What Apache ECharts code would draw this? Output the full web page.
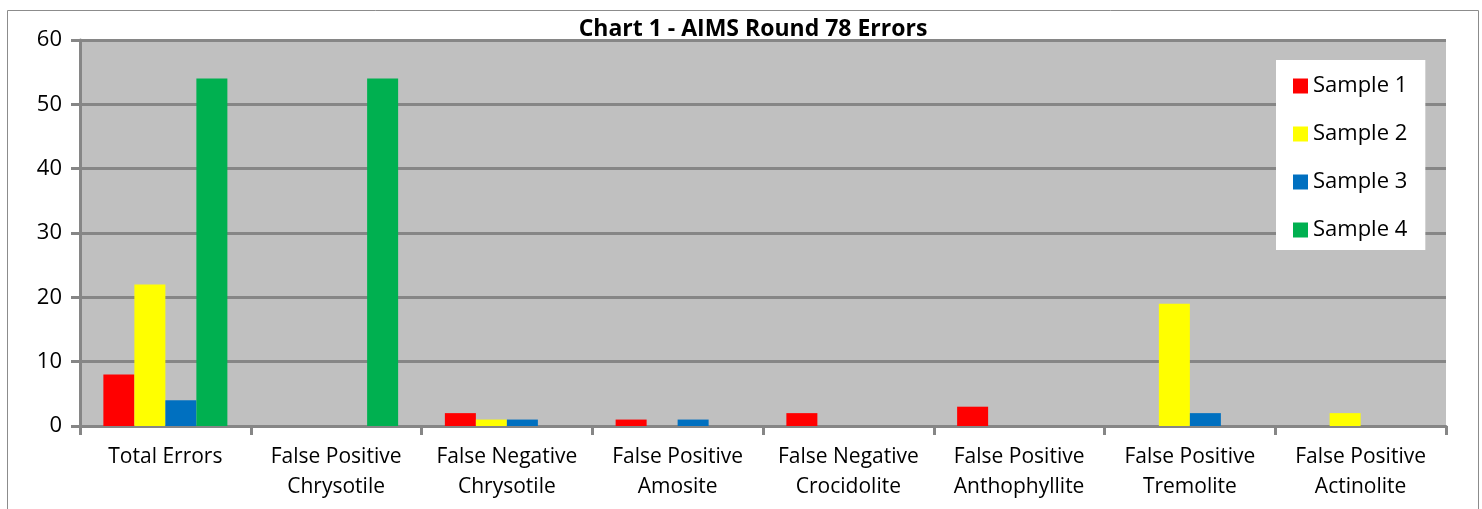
<!DOCTYPE html>
<html><head><meta charset="utf-8">
<script src="https://cdn.jsdelivr.net/npm/echarts@6/dist/echarts.min.js"></script>
<style>html,body{margin:0;padding:0;background:#fff}#c{width:1482px;height:509px}</style>
</head><body><div id="c"></div>
<script>
const categories = ['Total Errors','False Positive\nChrysotile','False Negative\nChrysotile','False Positive\nAmosite','False Negative\nCrocidolite','False Positive\nAnthophyllite','False Positive\nTremolite','False Positive\nActinolite'];
const sample1 = [8, 0, 2, 1, 2, 3, 0, 0];
const sample2 = [22, 0, 1, 0, 0, 0, 19, 2];
const sample3 = [4, 0, 1, 1, 0, 0, 2, 0];
const sample4 = [54, 54, 0, 0, 0, 0, 0, 0];
const seriesNames = ['Sample 1','Sample 2','Sample 3','Sample 4'];
const colors = ['#FF0000','#FFFF00','#0070C0','#00B050'];
const yTicks = [0,10,20,30,40,50,60];

const font = '"Open Sans", sans-serif';
const chart = echarts.init(document.getElementById('c'));
const data = [sample1, sample2, sample3, sample4];
chart.setOption({
  animation: false,
  title: {text: 'Chart 1 - AIMS Round 78 Errors', left: 748, textAlign: 'center', top: 13,
    textStyle: {fontFamily: font, fontWeight: 'bold', fontSize: 23, color: '#000'}},
  graphic: [{type: 'polyline', shape: {points: [[7.5,509],[7.5,10.5],[1478.5,10.5],[1478.5,509]]},
    style: {stroke: '#8c8c8c', lineWidth: 1, fill: null}}],
  legend: {orient: 'vertical', left: 1276, top: 60, width: 149, itemWidth: 15, itemHeight: 15,
    itemGap: 26, padding: [15, 18, 9, 17], backgroundColor: '#fff', icon: 'rect',
    textStyle: {fontFamily: font, fontSize: 22, color: '#000'}, data: seriesNames},
  grid: {left: 80, right: 36, top: 40, bottom: 83, show: true, backgroundColor: '#C0C0C0', borderWidth: 0},
  xAxis: {type: 'category', data: categories,
    axisLine: {lineStyle: {color: '#868686', width: 3}},
    axisTick: {show: true, length: 9, lineStyle: {color: '#868686', width: 3}},
    axisLabel: {fontFamily: font, fontSize: 21, color: '#000', margin: 16, lineHeight: 30, interval: 0}},
  yAxis: {type: 'value', min: yTicks[0], max: yTicks[yTicks.length-1], interval: 10,
    axisLine: {show: true, lineStyle: {color: '#868686', width: 3}},
    axisTick: {show: true, length: 9, lineStyle: {color: '#868686', width: 3}},
    axisLabel: {fontFamily: font, fontSize: 22, color: '#000', margin: 18},
    splitLine: {lineStyle: {color: '#868686', width: 3}}},
  series: data.map((d, i) => ({name: seriesNames[i], type: 'bar', data: d, barWidth: 31, barGap: '0%',
    itemStyle: {color: colors[i]}}))
});
</script></body></html>
